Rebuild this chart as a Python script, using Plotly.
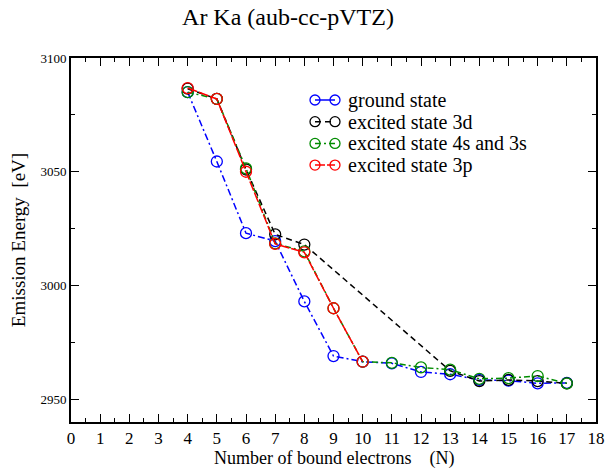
import plotly.graph_objects as go

# Number of bound electrons and emission energies (eV)
n_ground = [4, 5, 6, 7, 8, 9, 10, 11, 12, 13, 14, 15, 16, 17]
e_ground = [3085, 3054.5, 3023, 3019.5, 2993, 2969, 2966.5, 2965.8, 2962, 2961, 2958.5, 2958.2, 2957, 2957.2]

n_3d = [4, 5, 6, 7, 8, 13, 14, 15, 16, 17]
e_3d = [3086.5, 3082, 3051, 3022.5, 3018, 2962.5, 2958, 2958.5, 2958, 2957]

n_4s3s = [4, 5, 6, 7, 8, 9, 10, 11, 12, 13, 14, 15, 16, 17]
e_4s3s = [3085, 3082, 3051.5, 3018.5, 3015, 2990, 2966.5, 2966, 2964, 2963, 2959, 2959.3, 2960.2, 2957]

n_3p = [4, 5, 6, 7, 8, 9, 10]
e_3p = [3086.8, 3082, 3050, 3018.3, 3014.6, 2990, 2966.5]

x_ticks = list(range(0, 19))
y_ticks = [2950, 3000, 3050, 3100]

series = [
    ("ground state", n_ground, e_ground, "rgb(0,0,255)", "7px,3px,2px,3px"),
    ("excited state 3d", n_3d, e_3d, "rgb(0,0,0)", "6px,4px"),
    ("excited state 4s and 3s", n_4s3s, e_4s3s, "rgb(0,140,0)", "6px,3px,2px,3px"),
    ("excited state 3p", n_3p, e_3p, "rgb(255,0,0)", "10px,2px"),
]

serif = "Liberation Serif, Times New Roman, serif"
W, H = 607, 470
ML, MR, MT, MB = 71, 11, 58, 48

fig = go.Figure()
for name, xs, ys, color, dash in series:
    fig.add_trace(go.Scatter(
        x=xs, y=ys, name=name, mode="lines+markers", showlegend=False,
        line=dict(color=color, width=1.5, dash=dash),
        marker=dict(symbol="circle-open", size=11, color=color,
                    line=dict(width=1.3, color=color)),
    ))

# Legend drawn on an overlay axis measured in page pixels
legend_x0, legend_x1, legend_text_x = 315, 335, 346
legend_y0, legend_dy = 100, 21.7
for i, (name, xs, ys, color, dash) in enumerate(series):
    yy = legend_y0 + i * legend_dy
    fig.add_trace(go.Scatter(
        x=[legend_x0, legend_x1], y=[yy, yy], xaxis="x2", yaxis="y2",
        mode="lines+markers", showlegend=False, hoverinfo="skip",
        line=dict(color=color, width=1.5, dash=dash if i != 0 else "solid"),
        marker=dict(symbol="circle-open", size=10, color=color,
                    line=dict(width=1.3, color=color)),
    ))
    fig.add_annotation(
        x=legend_text_x, y=yy, xref="x2", yref="y2", text=name, showarrow=False,
        xanchor="left", yanchor="middle", font=dict(size=20, family=serif, color="black"),
    )

# x-axis title placed just below the tick labels
fig.add_annotation(
    text="Number of bound electrons    (N)", xref="paper", yref="paper",
    x=0.5, y=-(458 - (H - MB)) / (H - MT - MB), xanchor="center", yanchor="middle",
    showarrow=False, font=dict(size=18, family=serif, color="black"),
)

fig.update_layout(
    width=W, height=H,
    margin=dict(l=ML, r=MR, t=MT, b=MB),
    paper_bgcolor="white", plot_bgcolor="white",
    font=dict(family=serif, color="black"),
    title=dict(text="Ar Ka (aub-cc-pVTZ)", font=dict(size=24, family=serif),
               xref="container", yref="container", x=288 / W, y=1 - 17 / H,
               xanchor="center", yanchor="middle"),
    showlegend=False,
    xaxis=dict(
        range=[0, 18], tickvals=x_ticks, ticktext=[str(v) for v in x_ticks],
        ticks="inside", ticklen=8, tickwidth=1.3, tickcolor="black",
        minor=dict(dtick=0.5, ticks="inside", ticklen=4, tickwidth=1, tickcolor="black"),
        showline=True, linewidth=2, linecolor="black", mirror="allticks",
        showgrid=False, zeroline=False, automargin=False,
        tickfont=dict(size=17, family=serif),
    ),
    yaxis=dict(
        range=[2940, 3100], tickvals=y_ticks, ticktext=[str(v) for v in y_ticks],
        ticks="inside", ticklen=8, tickwidth=1.3, tickcolor="black",
        minor=dict(dtick=25, tick0=2950, ticks="inside", ticklen=4, tickwidth=1, tickcolor="black"),
        showline=True, linewidth=2, linecolor="black", mirror="allticks",
        showgrid=False, zeroline=False, automargin=False,
        tickfont=dict(size=13, family=serif),
        title=dict(text="Emission Energy  [eV]", font=dict(size=19, family=serif), standoff=10),
    ),
    xaxis2=dict(overlaying="x", range=[ML, W - MR], visible=False, fixedrange=True),
    yaxis2=dict(overlaying="y", range=[H - MB, MT], visible=False, fixedrange=True),
)

fig.write_html("out.html")
